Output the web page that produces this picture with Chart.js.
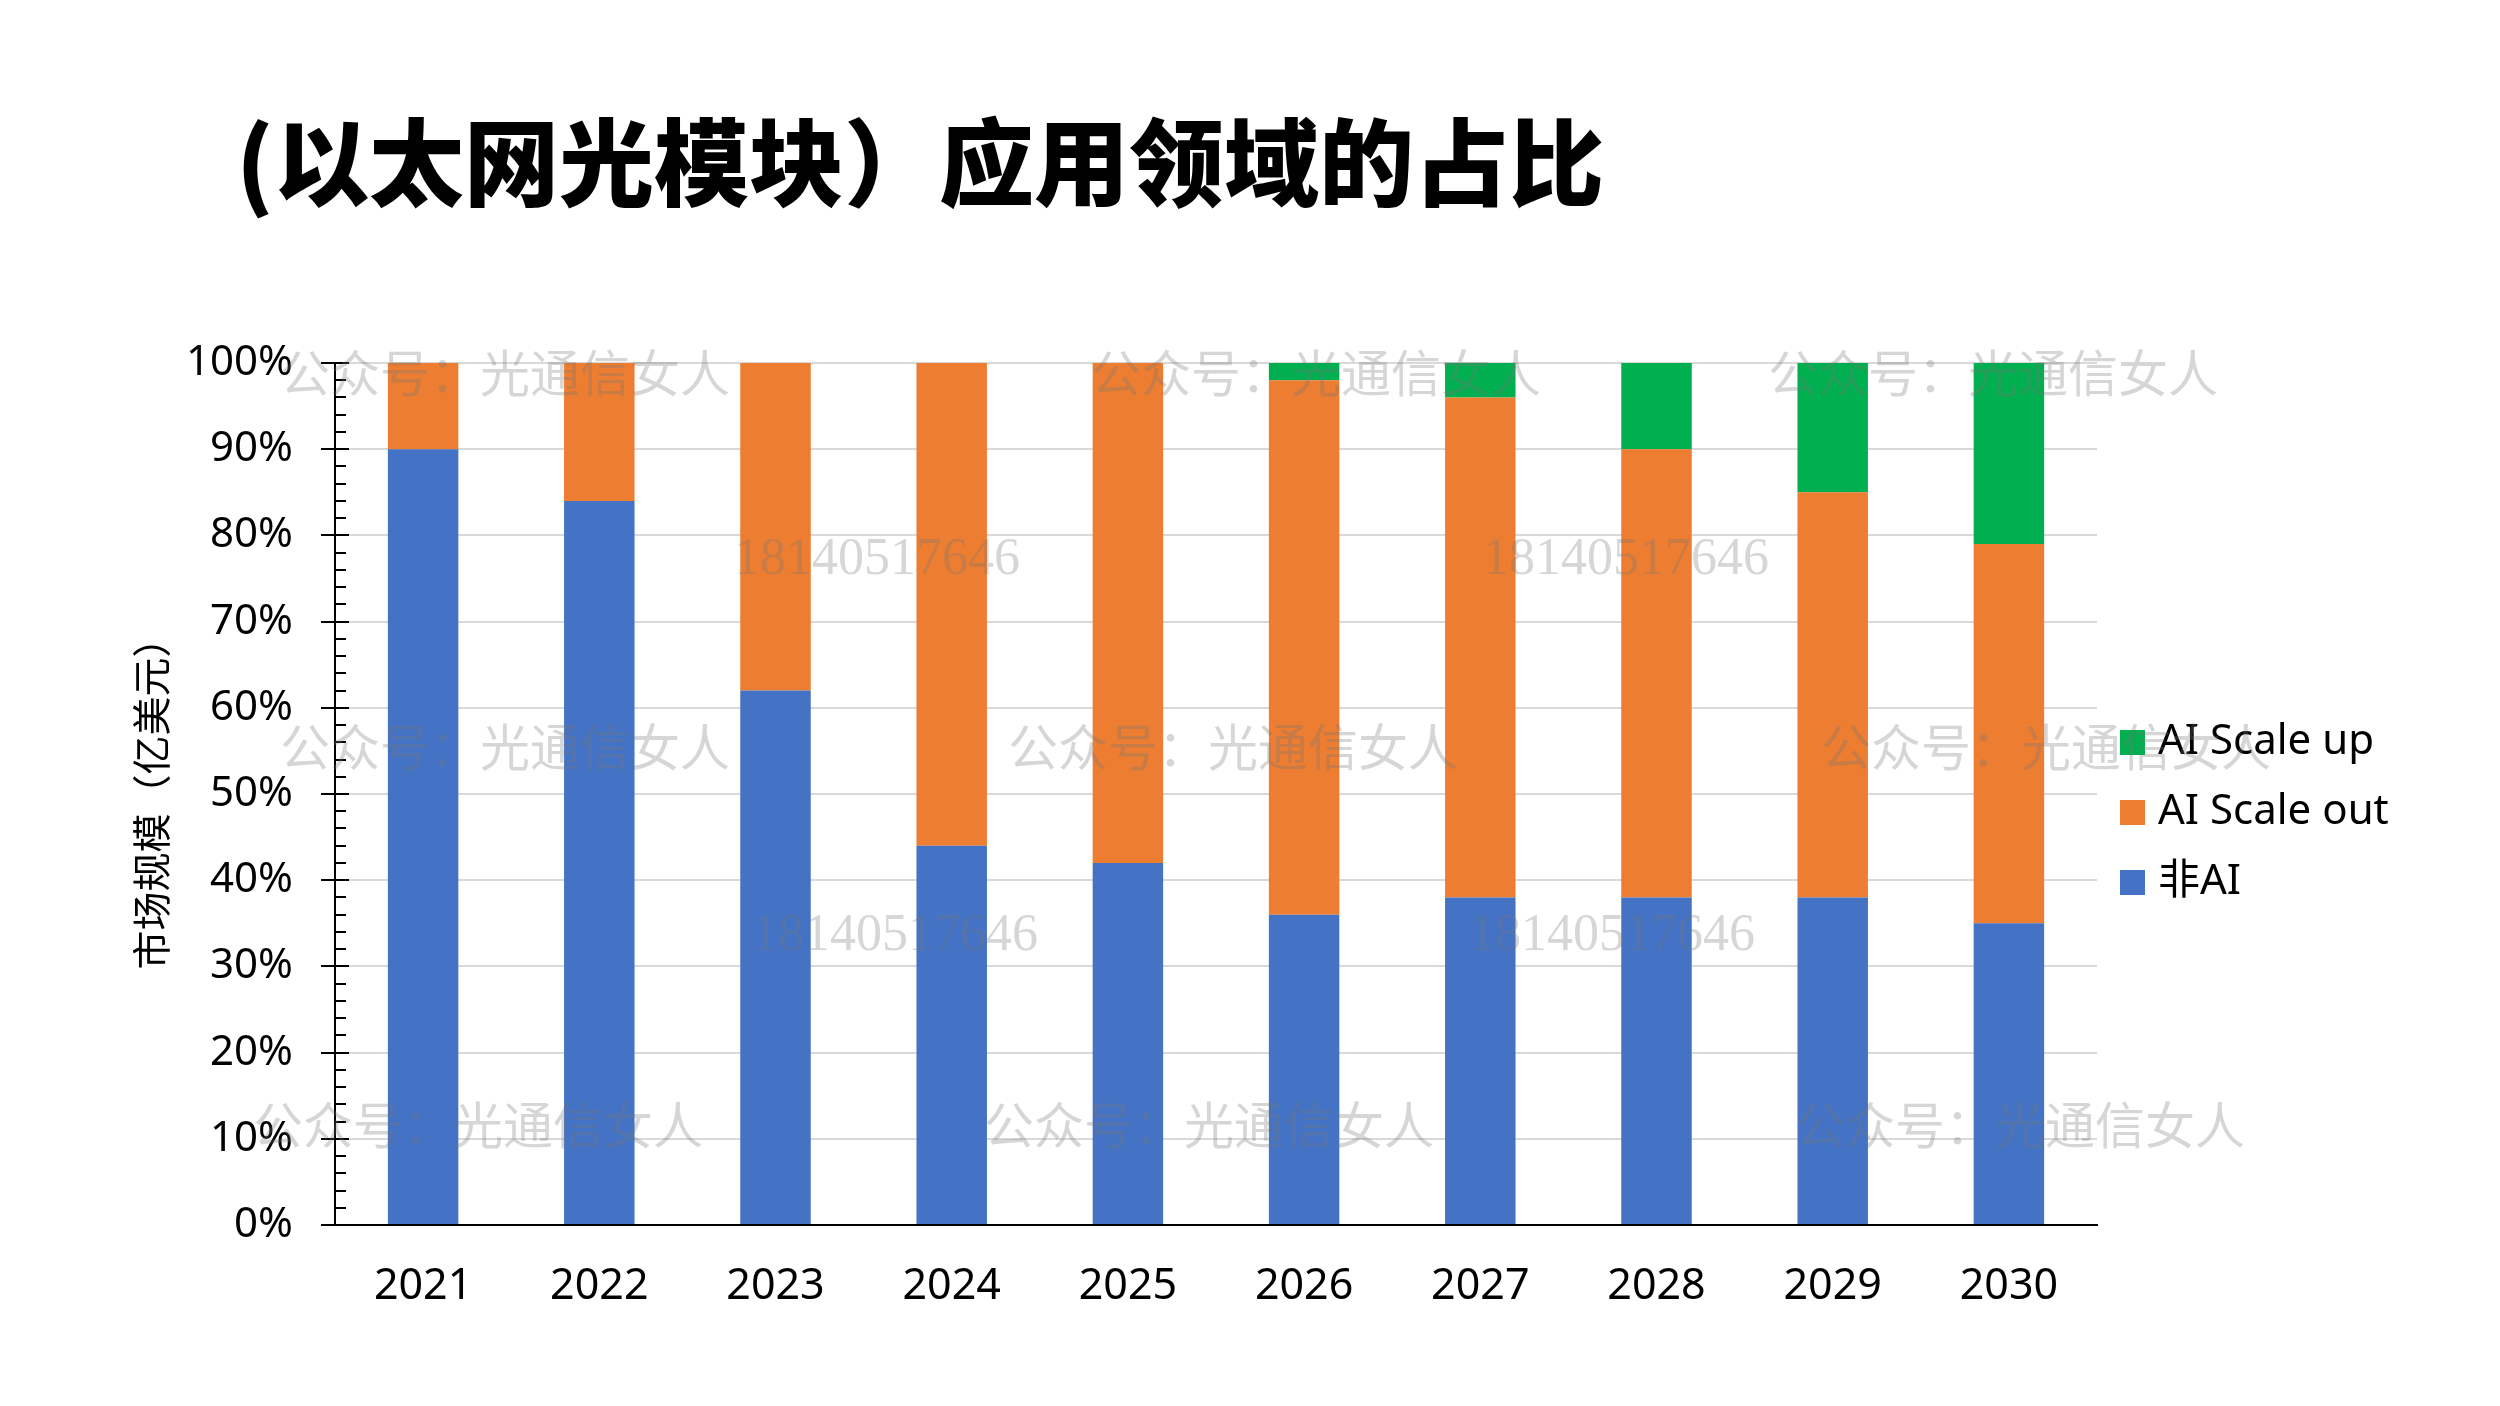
<!DOCTYPE html>
<html>
<head>
<meta charset="utf-8">
<script src="https://cdn.jsdelivr.net/npm/chart.js@4.4.0/dist/chart.umd.min.js"></script>
<style>
  html, body { margin: 0; padding: 0; background: #fff; }
  #wrap { position: relative; width: 2500px; height: 1406px; }
  #title {
    position: absolute; left: 236px; top: 110px;
    font-family: "Noto Sans CJK SC", sans-serif; font-weight: 900;
    font-size: 95px; line-height: 95px; color: #000; white-space: nowrap;
  }
  canvas { position: absolute; left: 0; top: 0; }
</style>
</head>
<body>
<div id="wrap">
  <canvas id="chart" width="2500" height="1406"></canvas>
  <div id="title">(以太网光模块）应用领域的占比</div>
</div>
<script>
// 数据
const years = ["2021", "2022", "2023", "2024", "2025", "2026", "2027", "2028", "2029", "2030"];
const nonAI = [90, 84, 62, 44, 42, 36, 38, 38, 38, 35];
const scaleOut = [10, 16, 38, 56, 58, 62, 58, 52, 47, 44];
const scaleUp = [0, 0, 0, 0, 0, 2, 4, 10, 15, 21];

const FONT = '"Noto Sans", "Noto Sans CJK SC", sans-serif';

// 水印
const wmText = "公众号：光通信女人";
const wmNum = "18140517646";
const wmTextPos = [
  [280, 373], [1091, 373], [1768, 373],
  [280, 747], [1008, 747], [1821, 747],
  [253, 1125], [984, 1125], [1795, 1125],
];
const wmNumPos = [[734, 560], [1483, 560], [752, 936], [1469, 936]];

// 刻度线 (主刻度跨轴, 次刻度在内侧)
const axisTicks = {
  id: "axisTicks",
  afterDraw(chart) {
    const { ctx } = chart;
    const y = chart.scales.y;
    const x0 = chart.chartArea.left;
    ctx.save();
    ctx.strokeStyle = "#000";
    ctx.lineWidth = 2;
    for (let v = 0; v <= 100; v += 2) {
      const py = Math.round(y.getPixelForValue(v));
      ctx.beginPath();
      if (v % 10 === 0) {
        ctx.moveTo(x0 - 14, py);
        ctx.lineTo(x0 + 14, py);
      } else {
        ctx.moveTo(x0, py);
        ctx.lineTo(x0 + 11, py);
      }
      ctx.stroke();
    }
    ctx.restore();
  },
};

// 图例 (右侧, 倒序)
const sideLegend = {
  id: "sideLegend",
  afterDraw(chart) {
    const { ctx } = chart;
    const sets = chart.data.datasets.slice().reverse();
    ctx.save();
    ctx.font = "42px " + FONT;
    ctx.textBaseline = "middle";
    sets.forEach((ds, i) => {
      const cy = 742 + i * 70;
      ctx.fillStyle = ds.backgroundColor;
      ctx.fillRect(2120, cy - 12, 25, 25);
      ctx.fillStyle = "#000";
      ctx.fillText(ds.label, 2158, cy);
    });
    ctx.restore();
  },
};

const watermark = {
  id: "watermark",
  afterDraw(chart) {
    const { ctx } = chart;
    ctx.save();
    ctx.fillStyle = "rgba(120,120,120,0.3)";
    ctx.textBaseline = "middle";
    ctx.font = '50px "Noto Sans CJK SC", sans-serif';
    wmTextPos.forEach(([x, y]) => ctx.fillText(wmText, x, y));
    ctx.font = '52px "Liberation Serif", serif';
    wmNumPos.forEach(([x, y]) => ctx.fillText(wmNum, x, y));
    ctx.restore();
  },
};

new Chart(document.getElementById("chart"), {
  type: "bar",
  data: {
    labels: years,
    datasets: [
      { label: "非AI", data: nonAI, backgroundColor: "#4472C4" },
      { label: "AI Scale out", data: scaleOut, backgroundColor: "#ED7D31" },
      { label: "AI Scale up", data: scaleUp, backgroundColor: "#00B050" },
    ],
  },
  options: {
    responsive: false,
    devicePixelRatio: 1,
    animation: false,
    layout: { padding: { top: 363, right: 403, left: 0, bottom: 0 } },
    datasets: { bar: { categoryPercentage: 1, barPercentage: 0.4, borderWidth: 0 } },
    plugins: {
      legend: { display: false },
      tooltip: { enabled: false },
    },
    scales: {
      x: {
        stacked: true,
        grid: { display: false },
        border: { display: true, color: "#000", width: 2 },
        ticks: { color: "#000", font: { family: FONT, size: 43 }, padding: 28 },
        afterFit: (s) => { s.height = 181; },
      },
      y: {
        stacked: true,
        min: 0,
        max: 100,
        grid: { color: "#d9d9d9", lineWidth: 2, drawTicks: false },
        border: { display: true, color: "#000", width: 2 },
        ticks: {
          stepSize: 10,
          color: "#000",
          padding: 42,
          font: { family: FONT, size: 42 },
          callback: (v) => v + "%",
        },
        title: {
          display: true,
          text: "市场规模（亿美元）",
          color: "#000",
          font: { family: '"Noto Sans CJK SC", sans-serif', size: 39 },
          padding: { top: 128, bottom: 0 },
        },
        afterFit: (s) => { s.width = 335; },
      },
    },
  },
  plugins: [axisTicks, sideLegend, watermark],
});
</script>
</body>
</html>
